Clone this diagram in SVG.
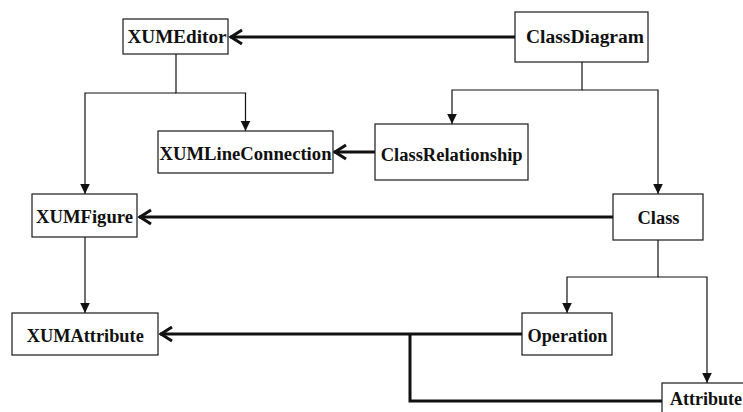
<svg xmlns="http://www.w3.org/2000/svg" width="743" height="412" viewBox="0 0 743 412">
  <style>
    .box { fill: #ffffff; stroke: #1a1a1a; stroke-width: 1.2; }
    .lbl { font-family: "Liberation Serif", "Times New Roman", serif; font-weight: bold; font-size: 18px; fill: #111111; text-anchor: middle; }
    .thin { fill: none; stroke: #111111; stroke-width: 1.2; }
    .thick { fill: none; stroke: #111111; stroke-width: 3; }
  </style>
  <defs>
    <!-- filled triangular head for thin links -->
    <marker id="tri" viewBox="-11 -6 12 12" refX="0" refY="0" markerWidth="12" markerHeight="12" markerUnits="userSpaceOnUse" orient="auto">
      <path d="M-10,-4.8 L0,0 L-10,4.8 Z" fill="#111111"/>
    </marker>
    <!-- open V head for thick links -->
    <marker id="vee" viewBox="-16 -10 20 20" refX="0" refY="0" markerWidth="20" markerHeight="20" markerUnits="userSpaceOnUse" orient="auto">
      <path d="M-12,-7 L-1,0 L-12,7" fill="none" stroke="#111111" stroke-width="3" stroke-linejoin="miter"/>
    </marker>
  </defs>

  <g id="connectors">
    <path class="thick" d="M515,37 H230" marker-end="url(#vee)"/>
    <path class="thin" d="M176,54 V93 H245.5 V131" marker-end="url(#tri)"/>
    <path class="thin" d="M176,93 H85 V194" marker-end="url(#tri)"/>
    <path class="thin" d="M582,62 V90 H452 V124" marker-end="url(#tri)"/>
    <path class="thin" d="M582,90 H658 V194" marker-end="url(#tri)"/>
    <path class="thick" d="M375,152 H334" marker-end="url(#vee)"/>
    <path class="thick" d="M613,217 H139" marker-end="url(#vee)"/>
    <path class="thin" d="M85,237 V313" marker-end="url(#tri)"/>
    <path class="thin" d="M658,240 V277 H567 V313" marker-end="url(#tri)"/>
    <path class="thin" d="M658,277 H707 V383" marker-end="url(#tri)"/>
    <path class="thick" d="M522,334 H160" marker-end="url(#vee)"/>
    <path class="thick" d="M662,401 H410 V334"/>
  </g>

  <g id="XUMEditor">
    <rect class="box" x="123" y="19" width="105" height="35"/>
    <text class="lbl" x="177" y="43" textLength="99" lengthAdjust="spacingAndGlyphs">XUMEditor</text>
  </g>
  <g id="ClassDiagram">
    <rect class="box" x="515" y="12" width="133" height="50"/>
    <text class="lbl" x="585" y="43" textLength="118" lengthAdjust="spacingAndGlyphs">ClassDiagram</text>
  </g>
  <g id="XUMLineConnection">
    <rect class="box" x="158" y="131" width="175" height="42"/>
    <text class="lbl" x="245.5" y="160" textLength="172" lengthAdjust="spacingAndGlyphs">XUMLineConnection</text>
  </g>
  <g id="ClassRelationship">
    <rect class="box" x="375" y="124" width="153" height="56"/>
    <text class="lbl" x="451.7" y="161" textLength="142" lengthAdjust="spacingAndGlyphs">ClassRelationship</text>
  </g>
  <g id="XUMFigure">
    <rect class="box" x="32" y="194" width="105" height="43"/>
    <text class="lbl" x="84.5" y="222.5" textLength="97" lengthAdjust="spacingAndGlyphs">XUMFigure</text>
  </g>
  <g id="Class">
    <rect class="box" x="613" y="194" width="90" height="46"/>
    <text class="lbl" x="658.5" y="224" textLength="42" lengthAdjust="spacingAndGlyphs">Class</text>
  </g>
  <g id="XUMAttribute">
    <rect class="box" x="12" y="313" width="146" height="42"/>
    <text class="lbl" x="85.3" y="341.5" textLength="117" lengthAdjust="spacingAndGlyphs">XUMAttribute</text>
  </g>
  <g id="Operation">
    <rect class="box" x="522" y="313" width="90" height="42"/>
    <text class="lbl" x="567.5" y="341.5" textLength="80" lengthAdjust="spacingAndGlyphs">Operation</text>
  </g>
  <g id="Attribute">
    <rect class="box" x="662" y="383" width="100" height="45"/>
    <text class="lbl" x="670" y="405" style="text-anchor:start">Attribute</text>
  </g>
</svg>
